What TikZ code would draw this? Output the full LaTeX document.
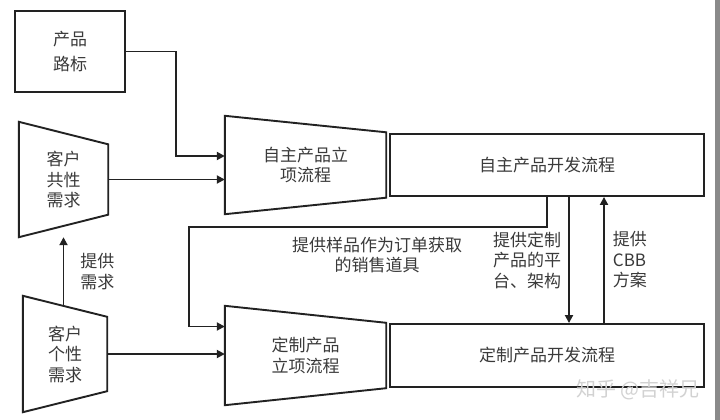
\documentclass[tikz,border=0pt]{standalone}
\usepackage{xcolor}
\usepackage{fontspec}
\setmainfont{Noto Sans CJK SC}
\usepackage{tikz}
\usetikzlibrary{arrows.meta,positioning,calc}
\definecolor{ink}{HTML}{222222}
\definecolor{txt}{HTML}{3A3A3A}
\definecolor{wmark}{HTML}{D2D2D2}
\definecolor{edge}{HTML}{8A8A8A}

% outline of a trapezoid node: long side on the left
\newcommand{\trapline}[2]{%
  \draw[line] (#1.north west) -- ([yshift=-#2]#1.north east)
    -- ([yshift=#2]#1.south east) -- (#1.south west) -- cycle;}

\begin{document}
\begin{tikzpicture}[
  x=1pt,y=-1pt,
  font=\fontsize{17}{20.5}\selectfont,
  line/.style={draw=ink,line width=1.9pt,line join=miter},
  box/.style={rectangle,line,text=txt,align=center,inner sep=0pt},
  trap/.style={rectangle,text=txt,align=center,inner sep=0pt},
  arr/.style={-{Triangle[length=8pt,width=8pt]},draw=ink,line width=1.9pt},
  lbl/.style={text=txt,align=left,inner sep=0pt}
]
\useasboundingbox (0,0) rectangle (720,420);
\fill[white] (0,0) rectangle (720,420);
\fill[edge] (715,0) rectangle (720,420);

% --- inputs
\node[box,minimum width=110pt,minimum height=81pt] (road) at (70,51.5) {产品\\[5pt]路标};
\node[trap,minimum width=89pt,minimum height=115pt] (gx) at (63.5,179.5) {客户\\共性\\需求};
\node[trap,minimum width=84pt,minimum height=116pt] (gxx) at (65,354) {客户\\个性\\需求};
\trapline{gx}{22.5pt}
\trapline{gxx}{21pt}

% --- project set-up
\node[trap,minimum width=161pt,minimum height=98pt] (zzlx) at (305.5,165) {自主产品立\\项流程};
\node[trap,minimum width=161pt,minimum height=99pt] (dzlx) at (305.5,355.5) {定制产品\\立项流程};
\trapline{zzlx}{16.5pt}
\trapline{dzlx}{17pt}

% --- development
\node[box,minimum width=314pt,minimum height=62pt] (zzkf) at (547,165) {自主产品开发流程};
\node[box,minimum width=314pt,minimum height=63pt] (dzkf) at (547,355.5) {定制产品开发流程};

\draw[arr] (road.east) -- ++(50,0) |- ([yshift=9pt]zzlx.west);
\draw[arr] (gx.east) -- (gx.east -| zzlx.west);
\draw[arr] (gx.south |- gxx.north) ++(0,10) -- (gx.south)
  node[lbl,pos=0.5,right=16pt] {提供\\需求};
\draw[arr] (gxx.east) -- (gxx.east -| dzlx.west);

\draw[arr] (zzkf.south) -- ++(0,30) -| ([xshift=-36pt,yshift=29pt]dzlx.west)
  -- ([yshift=29pt]dzlx.west);
\node[lbl,align=center] (yp) at (377,255) {提供样品作为订单获取\\的销售道具};

\draw[arr] ([xshift=22pt]zzkf.south) -- ([xshift=22pt]dzkf.north)
  node[lbl,pos=0.5,left=7pt] {提供定制\\产品的平\\台、架构};
\draw[arr] ([xshift=57pt]dzkf.north) -- ([xshift=57pt]zzkf.south)
  node[lbl,pos=0.5,right=8pt] {提供\\CBB\\方案};

\node[text=wmark,font=\fontsize{20}{22}\selectfont,anchor=east] (wm) at (703,390) {知乎 @吉祥兄};
\end{tikzpicture}
\end{document}
